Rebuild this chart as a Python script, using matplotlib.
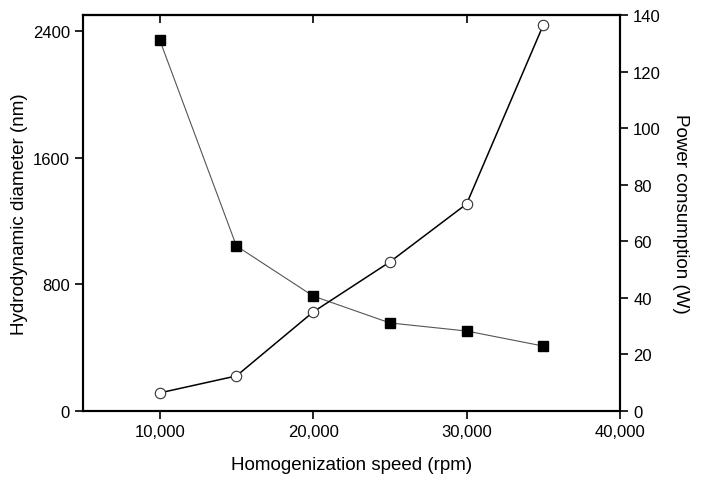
import matplotlib
matplotlib.use("Agg")
import matplotlib.pyplot as plt
from matplotlib.ticker import FuncFormatter

plt.rcParams['font.family'] = ['Liberation Sans', 'DejaVu Sans']

# Data
speed = [10000, 15000, 20000, 25000, 30000, 35000]
diameter = [2343, 1042, 726, 556, 505, 410]     # nm, filled squares, left axis
power = [6.4, 12.4, 35.0, 52.7, 73.2, 136.5]     # W, open circles, right axis

x_ticks = [10000, 20000, 30000, 40000]
left_ticks = [0, 800, 1600, 2400]
right_ticks = [0, 20, 40, 60, 80, 100, 120, 140]

fig = plt.figure(figsize=(7.03, 4.85), dpi=100)
ax = fig.add_axes([0.118, 0.1505, 0.764, 0.8165])

ax.plot(speed, diameter, color='#555555', linewidth=0.8, marker='s',
        markersize=7.5, markerfacecolor='black', markeredgecolor='black', zorder=3)
ax.set_xlim(5000, 40000)
ax.set_ylim(0, 2500)
ax.set_xticks(x_ticks)
ax.xaxis.set_major_formatter(FuncFormatter(lambda v, p: f"{int(v):,}"))
ax.set_yticks(left_ticks)
ax.tick_params(axis='both', direction='out', length=6, width=1.2, labelsize=12)
ax.set_xlabel("Homogenization speed (rpm)", fontsize=13.5, labelpad=12)
ax.set_ylabel("Hydrodynamic diameter (nm)", fontsize=13.5, labelpad=3)

# inward ticks on top spine
top = ax.secondary_xaxis('top')
top.set_xticks(x_ticks)
top.tick_params(direction='in', length=6, width=1.2, labeltop=False)

ax2 = ax.twinx()
ax2.plot(speed, power, color='black', linewidth=1.1, marker='o',
         markersize=7.5, markerfacecolor='white', markeredgecolor='#333333',
         markeredgewidth=0.8, zorder=3)
ax2.set_ylim(0, 140)
ax2.set_yticks(right_ticks)
ax2.tick_params(axis='y', direction='out', length=6, width=1.2, labelsize=12)
ax2.set_ylabel("Power consumption (W)", fontsize=13.5, rotation=270, labelpad=20)

for a in (ax, ax2):
    for s in a.spines.values():
        s.set_linewidth(1.5)
top.spines['top'].set_linewidth(1.5)

fig.savefig("out.png", dpi=100)
